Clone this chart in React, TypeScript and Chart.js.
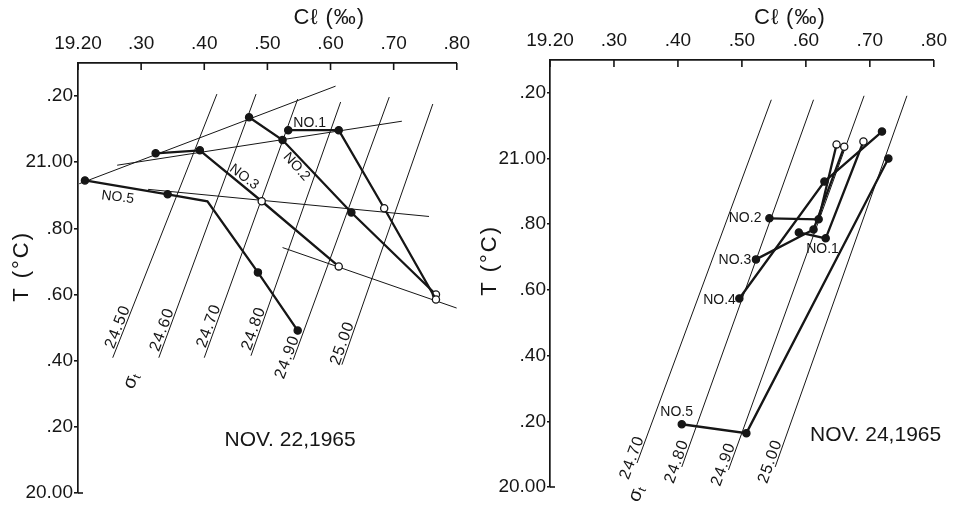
import React, { useEffect, useRef } from "react";
import { Chart, registerables } from "chart.js";

Chart.register(...registerables);

// ---------- axis ticks ----------
const clTickValues = [19.2, 19.3, 19.4, 19.5, 19.6, 19.7, 19.8];
const clTickLabels = ["19.20", ".30", ".40", ".50", ".60", ".70", ".80"];
const tTickValues = [20.0, 20.2, 20.4, 20.6, 20.8, 21.0, 21.2];
const tTickLabels = ["20.00", ".20", ".40", ".60", ".80", "21.00", ".20"];

// ---------- NOV. 22, 1965 ----------
const nov22No1Cl = [19.533, 19.613, 19.685, 19.767];
const nov22No1T = [21.097, 21.097, 20.861, 20.585];
const nov22No1Open = [false, false, true, true];

const nov22No2Cl = [19.471, 19.524, 19.633, 19.767];
const nov22No2T = [21.136, 21.067, 20.848, 20.6];
const nov22No2Open = [false, false, false, true];

const nov22No3Cl = [19.323, 19.393, 19.491, 19.613];
const nov22No3T = [21.027, 21.036, 20.882, 20.685];
const nov22No3Open = [false, false, true, true];

const nov22No5Cl = [19.211, 19.342, 19.405, 19.485, 19.548];
const nov22No5T = [20.945, 20.903, 20.882, 20.667, 20.491];
const nov22No5Open = [false, false, false, false, false];
const nov22No5Marked = [true, true, false, true, true];

const nov22LinkACl = [19.202, 19.608];
const nov22LinkAT = [20.935, 21.23];
const nov22LinkBCl = [19.262, 19.713];
const nov22LinkBT = [20.991, 21.124];
const nov22LinkCCl = [19.311, 19.756];
const nov22LinkCT = [20.918, 20.836];
const nov22LinkDCl = [19.524, 19.8];
const nov22LinkDT = [20.742, 20.559];

const nov22SigmaLabels = ["24.50", "24.60", "24.70", "24.80", "24.90", "25.00"];
const nov22SigmaClBottom = [19.255, 19.328, 19.4, 19.474, 19.541, 19.618];
const nov22SigmaTBottom = [20.409, 20.409, 20.409, 20.415, 20.403, 20.388];
const nov22SigmaClTop = [19.42, 19.482, 19.548, 19.616, 19.693, 19.762];
const nov22SigmaTTop = [21.206, 21.206, 21.191, 21.182, 21.197, 21.176];

// ---------- NOV. 24, 1965 ----------
const nov24No1Cl = [19.589, 19.631, 19.69];
const nov24No1T = [20.775, 20.757, 21.052];
const nov24No1Open = [false, false, true];

const nov24No2Cl = [19.543, 19.62, 19.648];
const nov24No2T = [20.818, 20.815, 21.043];
const nov24No2Open = [false, false, true];

const nov24No3Cl = [19.522, 19.612, 19.66];
const nov24No3T = [20.693, 20.784, 21.036];
const nov24No3Open = [false, false, true];

const nov24No4Cl = [19.496, 19.629, 19.719];
const nov24No4T = [20.574, 20.93, 21.082];
const nov24No4Open = [false, false, false];

const nov24No5Cl = [19.406, 19.507, 19.729];
const nov24No5T = [20.191, 20.164, 21.0];
const nov24No5Open = [false, false, false];

const nov24SigmaLabels = ["24.70", "24.80", "24.90", "25.00"];
const nov24SigmaClBottom = [19.336, 19.406, 19.479, 19.552];
const nov24SigmaTBottom = [20.073, 20.061, 20.052, 20.061];
const nov24SigmaClTop = [19.546, 19.612, 19.691, 19.758];
const nov24SigmaTTop = [21.179, 21.179, 21.191, 21.191];

// ---------- styling / layout (not data) ----------
const INK = "#161616";
const FONT = "'Liberation Sans', Arial, sans-serif";

type Pt = { x: number; y: number };
const zip = (a: number[], b: number[]): Pt[] => a.map((v, i) => ({ x: v, y: b[i] }));

function stationSet(cl: number[], t: number[], open: boolean[], marked?: boolean[]) {
  return {
    data: zip(cl, t),
    showLine: true,
    borderColor: INK,
    borderWidth: 2.3,
    pointRadius: cl.map((_, i) => (marked && !marked[i] ? 0 : 3.6)),
    pointBackgroundColor: open.map((o) => (o ? "#ffffff" : INK)),
    pointBorderColor: INK,
    pointBorderWidth: 1.3,
    pointStyle: "circle",
  };
}

function thinSet(cl: number[], t: number[]) {
  return {
    data: zip(cl, t),
    showLine: true,
    borderColor: INK,
    borderWidth: 1,
    pointRadius: 0,
  };
}

type TextLabel = { text: string; cl: number; t: number; rot: number; size: number };

type PanelSpec = {
  width: number;
  yAxisWidth: number;
  xAxisHeight: number;
  padRight: number;
  padBottom: number;
  yTickLen: number;
  stations: any[];
  links: any[];
  sigmaLabels: string[];
  sigmaClBottom: number[];
  sigmaTBottom: number[];
  sigmaClTop: number[];
  sigmaTTop: number[];
  sigmaShift: number[];
  labels: TextLabel[];
  clTitleAt: number;
  clTitleRise: number;
  tTitleAt: number;
  tTitleOffset: number;
  sigmaSymbol: { cl: number; t: number };
};

const nov22Spec: PanelSpec = {
  width: 478,
  yAxisWidth: 78,
  xAxisHeight: 63,
  padRight: 11,
  padBottom: 18,
  yTickLen: 4,
  stations: [
    stationSet(nov22No1Cl, nov22No1T, nov22No1Open),
    stationSet(nov22No2Cl, nov22No2T, nov22No2Open),
    stationSet(nov22No3Cl, nov22No3T, nov22No3Open),
    stationSet(nov22No5Cl, nov22No5T, nov22No5Open, nov22No5Marked),
  ],
  links: [
    thinSet(nov22LinkACl, nov22LinkAT),
    thinSet(nov22LinkBCl, nov22LinkBT),
    thinSet(nov22LinkCCl, nov22LinkCT),
    thinSet(nov22LinkDCl, nov22LinkDT),
  ],
  sigmaLabels: nov22SigmaLabels,
  sigmaClBottom: nov22SigmaClBottom,
  sigmaTBottom: nov22SigmaTBottom,
  sigmaClTop: nov22SigmaClTop,
  sigmaTTop: nov22SigmaTTop,
  sigmaShift: [8, 5, 9, 4, -22, -2],
  labels: [
    { text: "NO.1", cl: 19.567, t: 21.118, rot: 0, size: 14 },
    { text: "NO.2", cl: 19.546, t: 20.986, rot: 48, size: 14 },
    { text: "NO.3", cl: 19.463, t: 20.955, rot: 37, size: 14 },
    { text: "NO.5", cl: 19.263, t: 20.894, rot: 7, size: 14 },
    { text: "NOV. 22,1965", cl: 19.536, t: 20.161, rot: 0, size: 21 },
  ],
  clTitleAt: 19.598,
  clTitleRise: 45,
  tTitleAt: 20.685,
  tTitleOffset: 56,
  sigmaSymbol: { cl: 19.285, t: 20.342 },
};

const nov24Spec: PanelSpec = {
  width: 477,
  yAxisWidth: 72,
  xAxisHeight: 60,
  padRight: 18,
  padBottom: 24,
  yTickLen: 3,
  stations: [
    stationSet(nov24No1Cl, nov24No1T, nov24No1Open),
    stationSet(nov24No2Cl, nov24No2T, nov24No2Open),
    stationSet(nov24No3Cl, nov24No3T, nov24No3Open),
    stationSet(nov24No4Cl, nov24No4T, nov24No4Open),
    stationSet(nov24No5Cl, nov24No5T, nov24No5Open),
  ],
  links: [],
  sigmaLabels: nov24SigmaLabels,
  sigmaClBottom: nov24SigmaClBottom,
  sigmaTBottom: nov24SigmaTBottom,
  sigmaClTop: nov24SigmaClTop,
  sigmaTTop: nov24SigmaTTop,
  sigmaShift: [-19, -19, -19, -19],
  labels: [
    { text: "NO.1", cl: 19.626, t: 20.723, rot: 0, size: 14 },
    { text: "NO.2", cl: 19.505, t: 20.818, rot: 0, size: 14 },
    { text: "NO.3", cl: 19.489, t: 20.69, rot: 0, size: 14 },
    { text: "NO.4", cl: 19.465, t: 20.568, rot: 0, size: 14 },
    { text: "NO.5", cl: 19.398, t: 20.228, rot: 0, size: 14 },
    { text: "NOV. 24,1965", cl: 19.709, t: 20.158, rot: 0, size: 21 },
  ],
  clTitleAt: 19.575,
  clTitleRise: 42,
  tTitleAt: 20.69,
  tTitleOffset: 60,
  sigmaSymbol: { cl: 19.336, t: 19.982 },
};

function labelFor(values: number[], labels: string[], v: number) {
  const i = values.findIndex((x) => Math.abs(x - v) < 1e-6);
  return i >= 0 ? labels[i] : "";
}

function decorPlugin(p: PanelSpec) {
  return {
    id: "panelDecor",
    afterDraw(chart: any) {
      const ctx: any = chart.ctx;
      const xs = chart.scales.x;
      const ys = chart.scales.y;
      const ca = chart.chartArea;
      ctx.save();
      ctx.strokeStyle = INK;
      ctx.fillStyle = INK;
      ctx.lineWidth = 1.6;
      // inward ticks on the top axis
      clTickValues.forEach((v) => {
        const px = xs.getPixelForValue(v);
        ctx.beginPath();
        ctx.moveTo(px, ca.top);
        ctx.lineTo(px, ca.top + 7);
        ctx.stroke();
      });
      // small foot at the bottom of the T axis
      ctx.beginPath();
      ctx.moveTo(ca.left, ca.bottom);
      ctx.lineTo(ca.left + 5, ca.bottom);
      ctx.stroke();

      // sigma-t labels along the isopycnals
      ctx.font = `16px ${FONT}`;
      ctx.letterSpacing = "1px";
      ctx.textAlign = "left";
      ctx.textBaseline = "alphabetic";
      p.sigmaLabels.forEach((lab, i) => {
        const x0 = xs.getPixelForValue(p.sigmaClBottom[i]);
        const y0 = ys.getPixelForValue(p.sigmaTBottom[i]);
        const x1 = xs.getPixelForValue(p.sigmaClTop[i]);
        const y1 = ys.getPixelForValue(p.sigmaTTop[i]);
        const ang = Math.atan2(y1 - y0, x1 - x0);
        const ux = Math.cos(ang);
        const uy = Math.sin(ang);
        const d = p.sigmaShift[i];
        ctx.save();
        ctx.translate(x0 + ux * d + uy * 2, y0 + uy * d - ux * 2);
        ctx.rotate(ang);
        ctx.fillText(lab, 0, 0);
        ctx.restore();
      });
      ctx.letterSpacing = "0px";

      // sigma-t symbol
      {
        const sx = xs.getPixelForValue(p.sigmaSymbol.cl);
        const sy = ys.getPixelForValue(p.sigmaSymbol.t);
        ctx.save();
        ctx.translate(sx, sy);
        ctx.rotate((-68 * Math.PI) / 180);
        ctx.textAlign = "center";
        ctx.textBaseline = "middle";
        ctx.font = `19px ${FONT}`;
        ctx.fillText("σ", -3, 0);
        ctx.font = `12px ${FONT}`;
        ctx.fillText("t", 5, 4);
        ctx.restore();
      }

      // station and date labels
      p.labels.forEach((l) => {
        const lx = xs.getPixelForValue(l.cl);
        const ly = ys.getPixelForValue(l.t);
        ctx.save();
        ctx.translate(lx, ly);
        ctx.rotate((l.rot * Math.PI) / 180);
        ctx.font = `${l.size}px ${FONT}`;
        ctx.textAlign = "center";
        ctx.textBaseline = "middle";
        ctx.fillText(l.text, 0, 0);
        ctx.restore();
      });

      // axis titles
      ctx.font = `22px ${FONT}`;
      ctx.letterSpacing = "1px";
      ctx.textAlign = "center";
      ctx.textBaseline = "middle";
      ctx.fillText("Cℓ (‰)", xs.getPixelForValue(p.clTitleAt), ca.top - p.clTitleRise);
      ctx.save();
      ctx.translate(ca.left - p.tTitleOffset, ys.getPixelForValue(p.tTitleAt));
      ctx.rotate(-Math.PI / 2);
      ctx.font = `22px ${FONT}`;
      ctx.letterSpacing = "2px";
      ctx.fillText("T (°C)", 0, 0);
      ctx.restore();
      ctx.letterSpacing = "0px";
      ctx.restore();
    },
  };
}

function Panel({ spec }: { spec: PanelSpec }) {
  const ref = useRef<HTMLCanvasElement | null>(null);
  useEffect(() => {
    if (!ref.current) return;
    const sigmaSets = spec.sigmaLabels.map((_, i) =>
      thinSet([spec.sigmaClBottom[i], spec.sigmaClTop[i]], [spec.sigmaTBottom[i], spec.sigmaTTop[i]])
    );
    const chart = new Chart(ref.current, {
      type: "scatter",
      data: { datasets: [...spec.stations, ...spec.links, ...sigmaSets] as any },
      options: {
        animation: false,
        responsive: false,
        devicePixelRatio: 1,
        events: [],
        layout: { padding: { left: 0, top: 0, right: spec.padRight, bottom: spec.padBottom } },
        plugins: { legend: { display: false }, tooltip: { enabled: false }, title: { display: false } },
        scales: {
          x: {
            type: "linear",
            position: "top",
            min: 19.2,
            max: 19.8,
            afterBuildTicks: (scale: any) => {
              scale.ticks = clTickValues.map((v) => ({ value: v }));
            },
            afterFit: (scale: any) => {
              scale.height = spec.xAxisHeight;
            },
            ticks: {
              color: INK,
              font: { family: FONT, size: 19 },
              padding: 8,
              maxRotation: 0,
              autoSkip: false,
              callback: (v: any) => labelFor(clTickValues, clTickLabels, Number(v)),
            },
            grid: { display: true, drawOnChartArea: false, drawTicks: false, color: INK },
            border: { display: true, color: INK, width: 1.7 },
          },
          y: {
            type: "linear",
            position: "left",
            min: 20.0,
            max: 21.3,
            afterBuildTicks: (scale: any) => {
              scale.ticks = tTickValues.map((v) => ({ value: v }));
            },
            afterFit: (scale: any) => {
              scale.width = spec.yAxisWidth;
            },
            ticks: {
              color: INK,
              font: { family: FONT, size: 19 },
              padding: 1,
              autoSkip: false,
              callback: (v: any) => labelFor(tTickValues, tTickLabels, Number(v)),
            },
            grid: {
              display: true,
              drawOnChartArea: false,
              drawTicks: true,
              tickLength: spec.yTickLen,
              color: INK,
              tickColor: INK,
              lineWidth: 1.6,
            },
            border: { display: true, color: INK, width: 1.7 },
          },
        },
      } as any,
      plugins: [decorPlugin(spec)],
    });
    return () => chart.destroy();
  }, [spec]);
  return (
    <canvas
      ref={ref}
      width={spec.width}
      height={511}
      style={{ width: spec.width, height: 511, display: "block" }}
    />
  );
}

export default function App() {
  return (
    <div
      style={{
        position: "fixed",
        left: 0,
        top: 0,
        width: 955,
        height: 511,
        background: "#ffffff",
        display: "flex",
        flexDirection: "row",
      }}
    >
      <Panel spec={nov22Spec} />
      <Panel spec={nov24Spec} />
    </div>
  );
}
